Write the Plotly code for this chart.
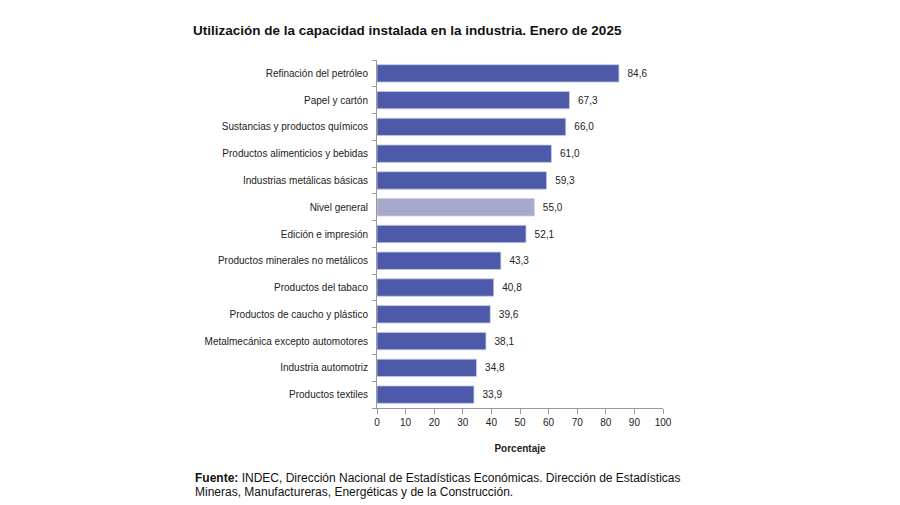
import plotly.graph_objects as go

categories = [
    "Refinación del petróleo",
    "Papel y cartón",
    "Sustancias y productos químicos",
    "Productos alimenticios y bebidas",
    "Industrias metálicas básicas",
    "Nivel general",
    "Edición e impresión",
    "Productos minerales no metálicos",
    "Productos del tabaco",
    "Productos de caucho y plástico",
    "Metalmecánica excepto automotores",
    "Industria automotriz",
    "Productos textiles",
]
values = [84.6, 67.3, 66.0, 61.0, 59.3, 55.0, 52.1, 43.3, 40.8, 39.6, 38.1, 34.8, 33.9]
x_ticks = [0, 10, 20, 30, 40, 50, 60, 70, 80, 90, 100]

colors = ["#a7a9cb" if c == "Nivel general" else "#4c5aa9" for c in categories]
labels = ["\u00a0\u00a0" + f"{v:.1f}".replace(".", ",") for v in values]

W, H = 892, 497  # page body adds an 8px margin
PW, PH = 286, 348  # plot area size

fig = go.Figure(go.Bar(
    x=values, y=categories, orientation="h",
    marker=dict(color=colors, line=dict(color="#c8cce6", width=0.8)),
    width=0.65,
    text=labels, textposition="outside", cliponaxis=False,
    textfont=dict(family="Liberation Sans, Arial", size=10, color="#222222"),
))

foot_font = dict(family="Liberation Sans, Arial", size=12, color="#111111")
fig.update_layout(
    width=W, height=H,
    paper_bgcolor="white", plot_bgcolor="white",
    margin=dict(l=369, r=W - 369 - PW, t=52, b=H - 52 - PH),
    showlegend=False,
    font=dict(family="Liberation Sans, Arial", size=10, color="#222222"),
    title=dict(
        text="<b>Utilización de la capacidad instalada en la industria. Enero de 2025</b>",
        x=185 / W, xanchor="left", xref="container",
        y=1 - 22 / H, yanchor="middle", yref="container",
        font=dict(family="Liberation Sans Narrow, Arial Narrow, Liberation Sans", size=13.5, color="#111111"),
    ),
    xaxis=dict(
        range=[0, 100], tickvals=x_ticks, ticktext=[str(t) for t in x_ticks],
        showgrid=False, zeroline=False,
        showline=True, linecolor="#999999", linewidth=1,
        ticks="outside", ticklen=5, tickcolor="#999999",
        tickfont=dict(size=10, color="#222222"),
        title=dict(text="<b>Porcentaje</b>", font=dict(size=10, color="#222222"), standoff=17),
    ),
    yaxis=dict(
        categoryorder="array", categoryarray=categories[::-1],
        autorange=False, range=[-0.5, len(categories) - 0.5],
        showgrid=False, zeroline=False,
        showline=True, linecolor="#999999", linewidth=1,
        ticks="outside", ticklen=4, tickcolor="#999999",
        tickson="boundaries", ticklabelstandoff=6,
        tickfont=dict(size=10, color="#222222"),
    ),
    annotations=[
        dict(
            text="<b>Fuente:</b> INDEC, Dirección Nacional de Estadísticas Económicas. Dirección de Estadísticas",
            xref="paper", yref="paper", x=(185 - 369) / PW, y=-(470 - 52 - PH) / PH,
            xanchor="left", yanchor="middle", align="left", showarrow=False,
            font=foot_font,
        ),
        dict(
            text="Mineras, Manufactureras, Energéticas y de la Construcción.",
            xref="paper", yref="paper", x=(185 - 369) / PW, y=-(484 - 52 - PH) / PH,
            xanchor="left", yanchor="middle", align="left", showarrow=False,
            font=foot_font,
        ),
    ],
)

fig.write_html("out.html")
